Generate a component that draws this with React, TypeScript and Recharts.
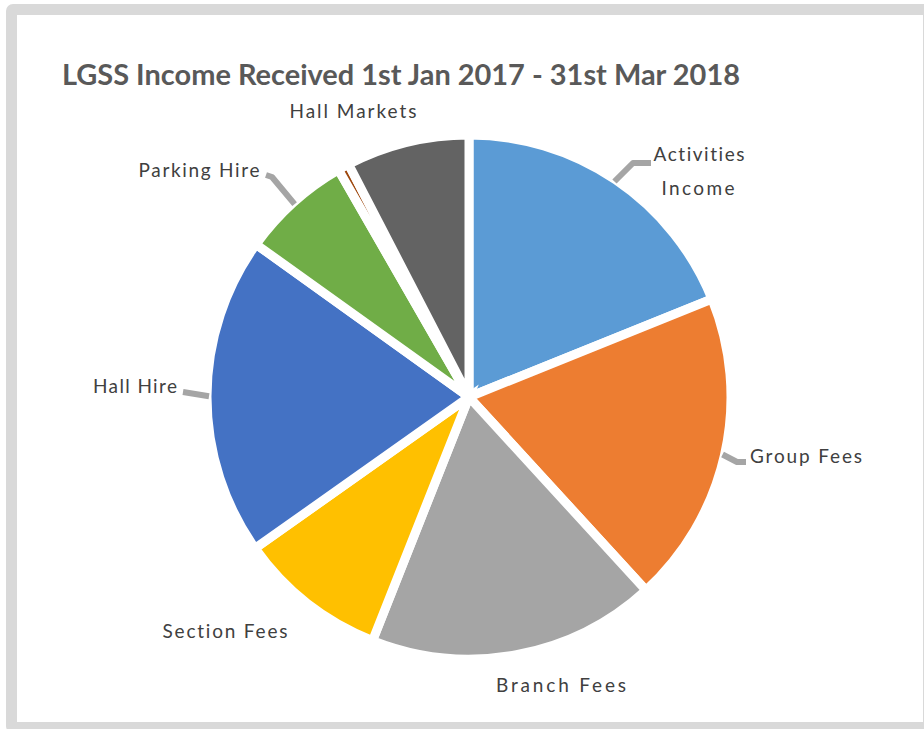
import { Cell, Pie, PieChart } from "recharts";

// The thin dark-orange sliver has no label in the source.
const CATEGORIES = [
  "Activities Income",
  "Group Fees",
  "Branch Fees",
  "Section Fees",
  "Hall Hire",
  "Parking Hire",
  "",
  "Hall Markets",
];
const VALUES = [18.9, 19.3, 17.8, 9.2, 19.7, 6.8, 0.7, 7.6];
const COLORS = ["#5B9BD5", "#ED7D31", "#A5A5A5", "#FFC000", "#4472C4", "#70AD47", "#9E480E", "#636363"];

const TITLE = "LGSS Income Received 1st Jan 2017 - 31st Mar 2018";

const W = 924;
const H = 729;
const RADIAN = Math.PI / 180;

type LabelSpec = {
  lines: { text: string; x: number; y: number; w: number }[];
  leader?: [number, number][];
};

// Where Excel put each data label (text centre / baseline / width) and
// the bends of its leader line. The leader always starts on the slice.
const LABELS: Record<string, LabelSpec> = {
  "Activities Income": {
    lines: [
      { text: "Activities", x: 699, y: 161, w: 91 },
      { text: "Income", x: 698, y: 195, w: 73 },
    ],
    leader: [[633, 163], [651, 163]],
  },
  "Group Fees": { lines: [{ text: "Group Fees", x: 806, y: 463, w: 112 }], leader: [[737, 462], [746, 462]] },
  "Branch Fees": { lines: [{ text: "Branch Fees", x: 561, y: 692, w: 130 }] },
  "Section Fees": { lines: [{ text: "Section Fees", x: 225, y: 638, w: 125 }] },
  "Hall Hire": { lines: [{ text: "Hall Hire", x: 135, y: 393, w: 84 }], leader: [[183, 392]] },
  "Parking Hire": { lines: [{ text: "Parking Hire", x: 199, y: 177, w: 121 }], leader: [[272, 177], [266, 175]] },
  "Hall Markets": { lines: [{ text: "Hall Markets", x: 353, y: 118, w: 127 }] },
};

const data = CATEGORIES.map((name, i) => ({ name, value: VALUES[i] }));

function renderLabel(props: any) {
  const spec = LABELS[props.name];
  if (!spec) return null;
  const { cx, cy, midAngle, outerRadius } = props;
  const r = outerRadius - 2;
  const sx = cx + r * Math.cos(-midAngle * RADIAN);
  const sy = cy + r * Math.sin(-midAngle * RADIAN);
  return (
    <g>
      {spec.leader && (
        <polyline
          points={[[sx, sy], ...spec.leader].map((p) => p.join(",")).join(" ")}
          fill="none"
          stroke="#A5A5A5"
          strokeWidth={6}
          strokeLinejoin="round"
        />
      )}
      {spec.lines.map((l) => (
        <text
          key={l.text}
          x={l.x}
          y={l.y}
          textAnchor="middle"
          textLength={l.w}
          lengthAdjust="spacing"
          fill="#404040"
          fontSize={19}
          fontFamily="Lato, 'Open Sans', sans-serif"
          style={{ fontVariantLigatures: "none" }}
        >
          {l.text}
        </text>
      ))}
    </g>
  );
}

export default function App() {
  return (
    <div style={{ position: "absolute", left: 0, top: 0, width: W, height: H, overflow: "hidden", background: "#fff" }}>
      <div
        style={{
          position: "absolute",
          left: 6,
          top: 4,
          width: 928,
          height: 729,
          boxSizing: "border-box",
          border: "11px solid #D9D9D9",
          borderRadius: 7,
        }}
      />
      <div style={{ position: "absolute", left: 0, top: 0 }}>
        <PieChart width={W} height={H} margin={{ top: 0, right: 0, bottom: 0, left: 0 }}>
          <Pie
            data={data}
            dataKey="value"
            nameKey="name"
            cx={469}
            cy={397}
            outerRadius={262}
            startAngle={90}
            endAngle={-270}
            stroke="#fff"
            strokeWidth={9}
            label={renderLabel}
            labelLine={false}
            isAnimationActive={false}
          >
            {data.map((d, i) => (
              <Cell key={i} fill={COLORS[i]} />
            ))}
          </Pie>
        </PieChart>
      </div>
      <svg width={W} height={H} style={{ position: "absolute", left: 0, top: 0, pointerEvents: "none" }}>
        <text
          x={62}
          y={85}
          textLength={678}
          lengthAdjust="spacingAndGlyphs"
          fill="#595959"
          fontSize={28}
          fontWeight="bold"
          fontFamily="Lato, 'Open Sans', sans-serif"
        >
          {TITLE}
        </text>
      </svg>
    </div>
  );
}
